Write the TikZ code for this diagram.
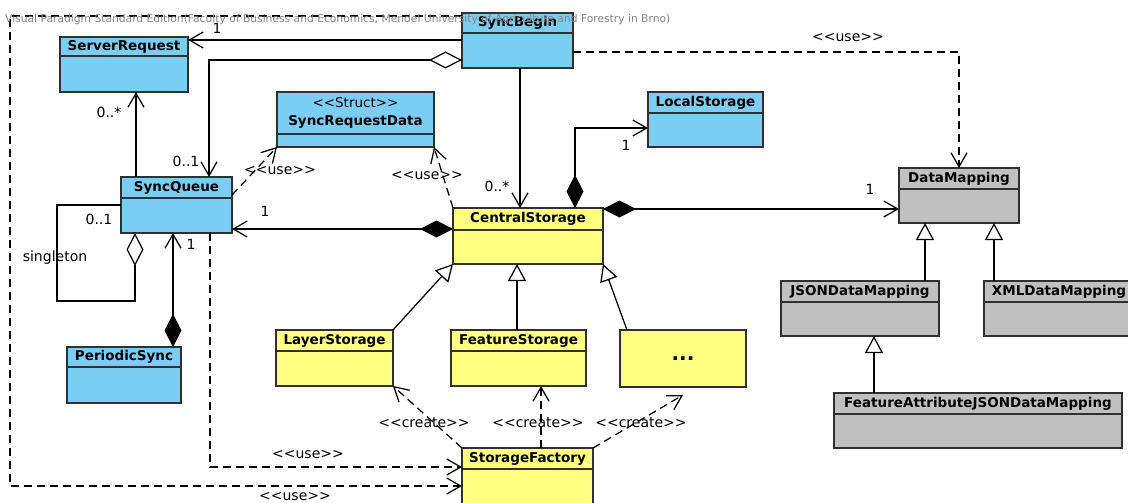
\documentclass[tikz,border=0pt]{standalone}
\usepackage{fontspec}
\usepackage{graphicx}
\setmainfont{DejaVu Sans}
\usetikzlibrary{arrows.meta}

\definecolor{clsblue}{HTML}{7ACEF4}
\definecolor{clsyellow}{HTML}{FFFF80}
\definecolor{clsgray}{HTML}{C0C0C0}
\definecolor{clsedge}{HTML}{303030}
\definecolor{markgray}{HTML}{858585}

% stereotype text, kept from turning into guillemets
\newcommand{\stereo}[1]{<{}<#1>{}>}

% class box: name, fill, x, y, width, height, header height, title
\newcommand{\umlclass}[8]{%
  \node[clsbox, fill=#2, minimum width=#5pt, minimum height=#6pt, anchor=north west] (#1) at (#3,#4) {};
  \draw[draw=clsedge, line width=1.3pt] ([yshift=-#7pt]#1.north west) -- ([yshift=-#7pt]#1.north east);
  \node[clstitle, minimum height=#7pt, anchor=north] (#1-title) at (#1.north) {#8};
}

\tikzset{
  openhead/.tip={Straight Barb[length=14pt,width=16pt]},
  gentri/.tip={Triangle[open,fill=white,length=17pt,width=18pt]},
  soliddia/.tip={Diamond[length=33pt,width=17pt]},
  hollowdia/.tip={Diamond[open,fill=white,length=33pt,width=17pt]},
  clsbox/.style={draw=clsedge, line width=1.5pt, inner sep=0pt, outer sep=0pt},
  clstitle/.style={inner sep=0pt, align=center, text=black, font=\bfseries\fontsize{13.5}{18}\selectfont},
  lbl/.style={inner sep=0pt, text=black, font=\fontsize{14}{16}\selectfont},
  conn/.style={line width=1.25pt, draw=black},
  dep/.style={conn, dash pattern=on 8pt off 5pt},
}

\begin{document}
\begin{tikzpicture}[x=1pt,y=-1pt]
\path[use as bounding box] (0,0) rectangle (1128,503);
\clip (0,0) rectangle (1128,503);
\fill[white] (0,0) rectangle (1128,503);

% classes
\umlclass{ServerRequest}{clsblue}{60}{37}{128}{55}{19}{ServerRequest}
\umlclass{SyncBegin}{clsblue}{462}{13}{111}{55}{20}{SyncBegin}
\umlclass{SyncRequestData}{clsblue}{277}{92}{157}{55}{42}{{\mdseries\stereo{Struct}}\\SyncRequestData}
\umlclass{LocalStorage}{clsblue}{648}{92}{115}{55}{21}{LocalStorage}
\umlclass{DataMapping}{clsgray}{899}{168}{120}{55}{21}{DataMapping}
\umlclass{SyncQueue}{clsblue}{121}{177}{111}{56}{21}{SyncQueue}
\umlclass{CentralStorage}{clsyellow}{453}{208}{150}{56}{22}{CentralStorage}
\umlclass{JSONDataMapping}{clsgray}{781}{281}{158}{55}{21}{JSONDataMapping}
\umlclass{XMLDataMapping}{clsgray}{984}{281}{150}{55}{21}{XMLDataMapping}
\umlclass{FAJSON}{clsgray}{834}{393}{288}{55}{21}{FeatureAttributeJSONDataMapping}
\umlclass{PeriodicSync}{clsblue}{67}{347}{114}{56}{20}{PeriodicSync}
\umlclass{LayerStorage}{clsyellow}{276}{330}{117}{56}{21}{LayerStorage}
\umlclass{FeatureStorage}{clsyellow}{451}{330}{135}{56}{21}{FeatureStorage}
\umlclass{StorageFactory}{clsyellow}{462}{448}{131}{70}{21}{StorageFactory}
\node[clsbox, fill=clsyellow, minimum width=126pt, minimum height=57pt, anchor=north west,
      font=\bfseries\fontsize{20}{20}\selectfont] (Dots) at (620,330) {...};

% associations
\draw[conn, -openhead] (SyncBegin.west |- 0,40) -- (ServerRequest.east |- 0,40);
\node[lbl] (m1) at (217,28) {1};

\draw[conn, hollowdia-openhead] (SyncBegin.west |- 0,60) -| (209,0 |- SyncQueue.north);
\node[lbl] (m2) at (186,161) {0..1};

\draw[conn, -openhead] (520,0 |- SyncBegin.south) -- (520,0 |- CentralStorage.north);
\node[lbl] (m3) at (497,186) {0..*};

\draw[conn, soliddia-openhead] (575,0 |- CentralStorage.north) |- (LocalStorage.west |- 0,128);
\node[lbl] (m4) at (626,145) {1};

\draw[conn, soliddia-openhead] (CentralStorage.east |- 0,209) -- (DataMapping.west |- 0,209);
\node[lbl] (m5) at (870,189) {1};

\draw[conn, soliddia-openhead] (CentralStorage.west |- 0,229) -- (SyncQueue.east |- 0,229);
\node[lbl] (m6) at (265,211) {1};

\draw[conn, -openhead] (136,0 |- SyncQueue.north) -- (136,0 |- ServerRequest.south);
\node[lbl] (m7) at (109,112) {0..*};

\draw[conn, -hollowdia] (SyncQueue.west |- 0,205) -| (57,301) -| (135,0 |- SyncQueue.south);
\node[lbl] (m8) at (99,219) {0..1};
\node[lbl] (m9) at (55,258) {singleton};

\draw[conn, soliddia-openhead] (173,0 |- PeriodicSync.north) -- (173,0 |- SyncQueue.south);
\node[lbl] (m10) at (191,244) {1};

% dependencies
\draw[dep, -openhead] (SyncBegin.east |- 0,52) -| (959,0 |- DataMapping.north);
\node[lbl] (u1) at (848,38) {\stereo{use}};

\draw[dep, -openhead] (SyncQueue.east |- 0,195) -- (SyncRequestData.south west);
\node[lbl] (u2) at (280,171) {\stereo{use}};

\draw[dep, -openhead] (CentralStorage.north west) -- (SyncRequestData.south east);
\node[lbl] (u3) at (427,176) {\stereo{use}};

\draw[dep, -openhead] (210,0 |- SyncQueue.south) |- (StorageFactory.west |- 0,467);
\node[lbl] (u4) at (308,455) {\stereo{use}};

\draw[dep, -openhead] (SyncBegin.west |- 0,16) -| (10,486) -- (StorageFactory.west |- 0,486);
\node[lbl] (u5) at (295,497) {\stereo{use}};

\draw[dep, -openhead] (StorageFactory.north west) -- (LayerStorage.south east);
\node[lbl] (c1) at (424,423) {\stereo{create}};
\draw[dep, -openhead] (541,0 |- StorageFactory.north) -- (541,0 |- FeatureStorage.south);
\node[lbl] (c2) at (538,423) {\stereo{create}};
\draw[dep, -openhead] (StorageFactory.north east) -- ([yshift=-8pt]Dots.south);
\node[lbl] (c3) at (641,423) {\stereo{create}};

% generalizations
\draw[conn, -gentri] (LayerStorage.north east) -- (CentralStorage.south west);
\draw[conn, -gentri] (517,0 |- FeatureStorage.north) -- (517,0 |- CentralStorage.south);
\draw[conn, -gentri] ([xshift=7pt]Dots.north west) -- (CentralStorage.south east);
\draw[conn, -gentri] (925,0 |- JSONDataMapping.north) -- (925,0 |- DataMapping.south);
\draw[conn, -gentri] (994,0 |- XMLDataMapping.north) -- (994,0 |- DataMapping.south);
\draw[conn, -gentri] (874,0 |- FAJSON.north) -- (874,0 |- JSONDataMapping.south);

% edition banner
\node[inner sep=0pt, anchor=west, text=markgray] (banner) at (5,20)
  {\resizebox{665pt}{!}{\fontsize{10}{12}\selectfont Visual Paradigm Standard Edition(Faculty of Business and Economics, Mendel University of Agriculture and Forestry in Brno)}};
\end{tikzpicture}
\end{document}
